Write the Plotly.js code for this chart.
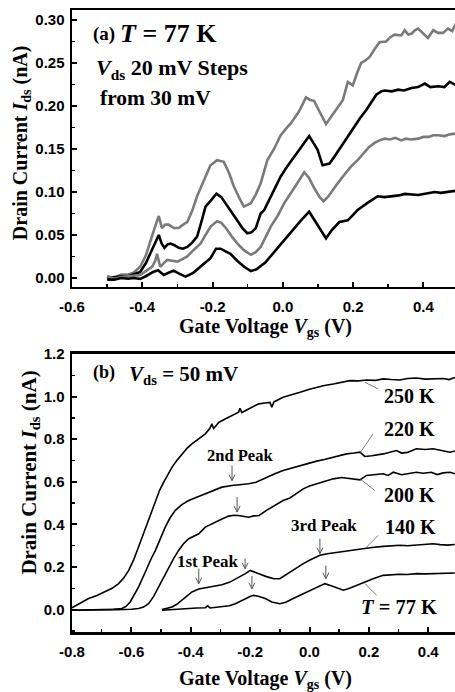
<!DOCTYPE html>
<html>
<head>
<meta charset="utf-8">
<script src="https://cdn.plot.ly/plotly-3.0.1.min.js"></script>
<style>html,body{margin:0;padding:0;background:#fff;}#chart{width:455px;height:692px;}</style>
</head>
<body>
<div id="chart"></div>
<script>
// ---------- Panel (a): T = 77 K, Vds in 20 mV steps ----------
const a1_v = [-0.50,-0.48,-0.46,-0.44,-0.425,-0.406,-0.39,-0.377,-0.365,-0.353,-0.344,-0.335,-0.325,-0.31,-0.296,-0.284,-0.272,-0.258,-0.244,-0.225,-0.206,-0.187,-0.168,-0.153,-0.139,-0.125,-0.111,-0.091,-0.077,-0.063,-0.044,-0.025,-0.006,0.008,0.023,0.045,0.066,0.078,0.089,0.105,0.123,0.135,0.147,0.160,0.171,0.185,0.199,0.211,0.223,0.235,0.247,0.261,0.275,0.294,0.306,0.318,0.337,0.347,0.357,0.366,0.376,0.385,0.399,0.413,0.428,0.442,0.456,0.47,0.482,0.494];
const a1_i = [0.002,0.0,0.004,0.004,0.006,0.013,0.026,0.044,0.058,0.072,0.058,0.062,0.062,0.058,0.058,0.062,0.065,0.078,0.095,0.113,0.131,0.137,0.135,0.122,0.106,0.094,0.083,0.087,0.097,0.110,0.137,0.150,0.166,0.173,0.180,0.193,0.210,0.207,0.206,0.193,0.179,0.186,0.193,0.200,0.207,0.228,0.224,0.238,0.250,0.253,0.257,0.266,0.274,0.275,0.280,0.283,0.282,0.288,0.283,0.284,0.288,0.290,0.285,0.279,0.288,0.285,0.285,0.290,0.287,0.297];

const a2_v = [-0.50,-0.48,-0.46,-0.44,-0.425,-0.406,-0.39,-0.377,-0.363,-0.353,-0.345,-0.337,-0.328,-0.32,-0.308,-0.296,-0.284,-0.272,-0.258,-0.244,-0.232,-0.22,-0.205,-0.189,-0.175,-0.16,-0.145,-0.129,-0.115,-0.101,-0.089,-0.077,-0.063,-0.053,-0.03,-0.006,0.013,0.032,0.055,0.075,0.087,0.099,0.113,0.123,0.133,0.150,0.166,0.185,0.204,0.220,0.237,0.252,0.266,0.28,0.29,0.31,0.328,0.345,0.366,0.385,0.404,0.42,0.442,0.46,0.475,0.494];
const a2_i = [0.0,0.001,0.002,0.002,0.004,0.007,0.017,0.029,0.040,0.050,0.040,0.035,0.039,0.040,0.038,0.035,0.034,0.036,0.041,0.048,0.065,0.083,0.090,0.098,0.094,0.085,0.076,0.067,0.058,0.052,0.053,0.058,0.075,0.079,0.098,0.118,0.130,0.141,0.153,0.165,0.157,0.149,0.131,0.132,0.133,0.143,0.153,0.164,0.176,0.186,0.195,0.204,0.213,0.217,0.218,0.217,0.219,0.218,0.221,0.222,0.226,0.222,0.223,0.222,0.228,0.224];

const a3_v = [-0.50,-0.48,-0.46,-0.44,-0.425,-0.406,-0.39,-0.372,-0.363,-0.358,-0.349,-0.34,-0.329,-0.315,-0.30,-0.286,-0.272,-0.255,-0.234,-0.22,-0.205,-0.187,-0.175,-0.16,-0.145,-0.129,-0.11,-0.091,-0.077,-0.063,-0.034,-0.015,0.004,0.025,0.045,0.061,0.075,0.090,0.105,0.116,0.13,0.143,0.156,0.175,0.195,0.213,0.23,0.245,0.261,0.275,0.29,0.305,0.32,0.337,0.35,0.365,0.385,0.40,0.415,0.428,0.442,0.46,0.475,0.494];
const a3_i = [0.002,-0.001,0.001,0.002,0.002,0.0035,0.008,0.013,0.020,0.028,0.013,0.017,0.021,0.020,0.019,0.022,0.025,0.032,0.040,0.050,0.060,0.066,0.064,0.057,0.048,0.040,0.032,0.027,0.030,0.036,0.060,0.072,0.087,0.100,0.113,0.123,0.116,0.104,0.094,0.089,0.095,0.103,0.110,0.120,0.130,0.137,0.145,0.152,0.157,0.160,0.162,0.161,0.163,0.160,0.162,0.161,0.162,0.164,0.164,0.166,0.166,0.165,0.167,0.168];

const a4_v = [-0.50,-0.48,-0.46,-0.44,-0.425,-0.406,-0.39,-0.369,-0.355,-0.339,-0.325,-0.311,-0.295,-0.277,-0.255,-0.234,-0.206,-0.19,-0.177,-0.163,-0.149,-0.13,-0.11,-0.091,-0.075,-0.05,-0.025,0.004,0.025,0.05,0.075,0.1,0.123,0.14,0.161,0.185,0.2,0.213,0.24,0.27,0.29,0.309,0.33,0.347,0.365,0.385,0.405,0.432,0.45,0.47,0.494];
const a4_i = [-0.002,-0.002,0.0,-0.001,0.0,-0.001,0.002,0.007,0.009,0.0035,0.006,0.0085,0.005,0.0015,0.006,0.013,0.023,0.034,0.034,0.031,0.028,0.020,0.013,0.008,0.010,0.018,0.030,0.044,0.055,0.066,0.077,0.061,0.046,0.056,0.065,0.067,0.073,0.079,0.087,0.095,0.094,0.0946,0.096,0.0977,0.097,0.0965,0.098,0.100,0.099,0.100,0.1015];

// ---------- Panel (b): Vds = 50 mV, several temperatures ----------
const b250_v = [-0.80,-0.77,-0.744,-0.716,-0.688,-0.665,-0.643,-0.626,-0.609,-0.592,-0.576,-0.561,-0.547,-0.533,-0.519,-0.505,-0.491,-0.477,-0.463,-0.447,-0.43,-0.413,-0.396,-0.373,-0.351,-0.336,-0.329,-0.323,-0.305,-0.284,-0.262,-0.239,-0.234,-0.228,-0.194,-0.171,-0.15,-0.133,-0.127,-0.12,-0.089,-0.06,-0.032,0.0,0.024,0.05,0.08,0.11,0.136,0.165,0.192,0.22,0.248,0.275,0.304,0.33,0.36,0.39,0.416,0.45,0.47,0.49];
const b250_i = [0.009,0.03,0.052,0.066,0.083,0.100,0.122,0.148,0.184,0.235,0.294,0.350,0.403,0.460,0.5125,0.560,0.598,0.635,0.669,0.700,0.731,0.757,0.778,0.800,0.825,0.850,0.872,0.850,0.880,0.895,0.910,0.927,0.945,0.925,0.950,0.966,0.970,0.973,0.950,0.975,0.997,1.008,1.020,1.035,1.044,1.052,1.059,1.066,1.075,1.074,1.078,1.076,1.083,1.080,1.078,1.085,1.0875,1.082,1.083,1.085,1.08,1.09];

const b220_v = [-0.80,-0.75,-0.70,-0.66,-0.632,-0.618,-0.604,-0.59,-0.576,-0.561,-0.547,-0.533,-0.519,-0.503,-0.486,-0.47,-0.452,-0.43,-0.407,-0.38,-0.351,-0.32,-0.295,-0.261,-0.235,-0.205,-0.18,-0.145,-0.117,-0.089,-0.06,-0.032,-0.005,0.024,0.05,0.08,0.105,0.125,0.15,0.17,0.186,0.21,0.248,0.27,0.293,0.31,0.33,0.36,0.39,0.416,0.44,0.473,0.49];
const b220_i = [-0.003,-0.002,0.0,0.002,0.005,0.015,0.036,0.068,0.106,0.152,0.200,0.240,0.278,0.333,0.3875,0.430,0.466,0.493,0.5125,0.528,0.544,0.560,0.575,0.583,0.586,0.591,0.598,0.622,0.638,0.653,0.665,0.677,0.688,0.697,0.705,0.716,0.722,0.731,0.735,0.739,0.719,0.722,0.731,0.738,0.747,0.735,0.738,0.755,0.752,0.755,0.747,0.739,0.745];

const b200_v = [-0.80,-0.75,-0.70,-0.65,-0.60,-0.576,-0.559,-0.542,-0.525,-0.508,-0.491,-0.474,-0.457,-0.441,-0.424,-0.407,-0.39,-0.373,-0.351,-0.334,-0.317,-0.295,-0.272,-0.255,-0.239,-0.222,-0.205,-0.188,-0.17,-0.145,-0.117,-0.089,-0.066,-0.046,-0.021,0.0,0.024,0.05,0.08,0.108,0.136,0.17,0.192,0.22,0.248,0.265,0.282,0.31,0.34,0.36,0.383,0.41,0.43,0.45,0.473,0.49];
const b200_i = [-0.003,-0.003,-0.001,0.0,0.002,0.005,0.012,0.028,0.062,0.106,0.152,0.200,0.242,0.278,0.310,0.333,0.345,0.356,0.3875,0.400,0.411,0.425,0.439,0.443,0.442,0.438,0.434,0.440,0.442,0.466,0.490,0.5125,0.524,0.545,0.567,0.580,0.590,0.603,0.614,0.620,0.614,0.609,0.630,0.632,0.6375,0.630,0.645,0.633,0.640,0.645,0.640,0.645,0.634,0.642,0.645,0.638];

const b140_v = [-0.497,-0.48,-0.463,-0.447,-0.43,-0.413,-0.396,-0.373,-0.351,-0.323,-0.295,-0.27,-0.25,-0.233,-0.216,-0.2,-0.186,-0.171,-0.145,-0.12,-0.1,-0.083,-0.066,-0.045,-0.021,0.005,0.035,0.06,0.08,0.11,0.136,0.16,0.181,0.21,0.248,0.275,0.304,0.33,0.36,0.39,0.416,0.44,0.465,0.489];
const b140_i = [0.0,0.005,0.0125,0.025,0.044,0.064,0.083,0.097,0.102,0.108,0.117,0.128,0.142,0.155,0.169,0.184,0.178,0.169,0.155,0.145,0.145,0.160,0.177,0.196,0.216,0.235,0.255,0.262,0.266,0.272,0.278,0.283,0.286,0.292,0.297,0.300,0.302,0.300,0.303,0.304,0.309,0.305,0.303,0.306];

const b77_v = [-0.497,-0.47,-0.44,-0.407,-0.38,-0.351,-0.343,-0.335,-0.31,-0.295,-0.27,-0.25,-0.233,-0.216,-0.2,-0.188,-0.17,-0.149,-0.127,-0.1,-0.08,-0.055,-0.03,0.001,0.025,0.052,0.08,0.1,0.114,0.135,0.158,0.185,0.214,0.248,0.275,0.304,0.33,0.36,0.39,0.42,0.45,0.489];
const b77_i = [-0.003,0.0,0.003,0.005,0.008,0.009,0.018,0.008,0.012,0.0125,0.018,0.028,0.040,0.052,0.062,0.067,0.062,0.052,0.036,0.028,0.035,0.052,0.068,0.0875,0.103,0.122,0.109,0.098,0.091,0.100,0.114,0.130,0.145,0.161,0.164,0.166,0.165,0.169,0.168,0.170,0.171,0.172];

// ---------- tick labels ----------
const ax_ticks = [-0.6,-0.4,-0.2,0.0,0.2,0.4];
const ax_labels = ["-0.6","-0.4","-0.2","0.0","0.2","0.4"];
const ay_ticks = [0.00,0.05,0.10,0.15,0.20,0.25,0.30];
const ay_labels = ["0.00","0.05","0.10","0.15","0.20","0.25","0.30"];
const bx_ticks = [-0.8,-0.6,-0.4,-0.2,0.0,0.2,0.4];
const bx_labels = ["-0.8","-0.6","-0.4","-0.2","0.0","0.2","0.4"];
const by_ticks = [0.0,0.2,0.4,0.6,0.8,1.0,1.2];
const by_labels = ["0.0","0.2","0.4","0.6","0.8","1.0","1.2"];

// peak-marker arrow tips (Vgs, Ids) in panel (b)
const peak_arrow_v = [-0.261, -0.244, -0.373, -0.217, -0.194, 0.035, 0.055];
const peak_arrow_i = [0.606, 0.458, 0.122, 0.192, 0.098, 0.263, 0.145];
const peak_arrow_len = [15, 15, 15, 10, 13, 15, 13];

const GRAY = '#7a7a7a';
const SERIF = 'Liberation Serif, Times New Roman, serif';
const SANS = 'Liberation Sans, Arial, sans-serif';

function lineA(x, y, color) {
  return {x: x, y: y, xaxis: 'x', yaxis: 'y', type: 'scatter', mode: 'lines',
          line: {color: color, width: 2.6}, hoverinfo: 'skip', showlegend: false};
}
function lineB(x, y) {
  return {x: x, y: y, xaxis: 'x2', yaxis: 'y2', type: 'scatter', mode: 'lines',
          line: {color: '#000', width: 1.6}, hoverinfo: 'skip', showlegend: false};
}

const traces = [
  lineA(a1_v, a1_i, GRAY), lineA(a2_v, a2_i, '#000'), lineA(a3_v, a3_i, GRAY), lineA(a4_v, a4_i, '#000'),
  lineB(b250_v, b250_i), lineB(b220_v, b220_i), lineB(b200_v, b200_i), lineB(b140_v, b140_i), lineB(b77_v, b77_i)
];

function axisCommon(extra) {
  return Object.assign({
    showline: true, linewidth: 2.5, linecolor: '#000', mirror: true,
    ticks: 'inside', ticklen: 5, tickwidth: 2, tickcolor: '#000',
    showgrid: false, zeroline: false, tickmode: 'array',
    tickfont: {family: SANS, size: 15, color: '#000', weight: 'bold'}
  }, extra);
}

const tfont = (s) => ({family: SERIF, size: s, color: '#000'});

function txt(x, y, xref, yref, text, size, xanchor) {
  return {x: x, y: y, xref: xref, yref: yref, text: text, showarrow: false,
          font: tfont(size), xanchor: xanchor || 'left', yanchor: 'middle'};
}

const shapes = [];
// leader lines from curves to temperature labels
function leader(x0, y0, x1, y1) {
  shapes.push({type: 'line', xref: 'x2', yref: 'y2', x0: x0, y0: y0, x1: x1, y1: y1,
               line: {color: '#555', width: 0.8}});
}
leader(0.187, 1.067, 0.231, 1.036);
leader(0.170, 0.735, 0.214, 0.825);
leader(0.170, 0.614, 0.220, 0.559);
leader(0.187, 0.286, 0.231, 0.348);
leader(0.187, 0.122, 0.226, 0.067);
// downward arrows marking the peaks (drawn in pixel units around the tip)
peak_arrow_v.forEach(function (v, k) {
  const L = peak_arrow_len[k];
  shapes.push({type: 'path', xref: 'x2', yref: 'y2', xsizemode: 'pixel', ysizemode: 'pixel',
               xanchor: v, yanchor: peak_arrow_i[k],
               path: 'M0,0 L0,' + L + ' M-3,6 L0,0 L3,6',
               line: {color: '#555', width: 1}});
});

const annotations = [
  // panel (a) texts
  txt(-0.545, 0.284, 'x', 'y', '<b>(a)</b>', 19),
  txt(-0.468, 0.284, 'x', 'y', '<b><i>T</i> = 77 K</b>', 26),
  txt(-0.538, 0.243, 'x', 'y', '<b><i>V</i><sub>ds</sub> 20 mV Steps</b>', 22),
  txt(-0.525, 0.209, 'x', 'y', '<b>from 30 mV</b>', 21.5),
  // panel (b) texts
  txt(-0.736, 1.112, 'x2', 'y2', '<b>(b)</b>', 18),
  txt(-0.614, 1.103, 'x2', 'y2', '<b><i>V</i><sub>ds</sub> = 50 mV</b>', 21),
  txt(0.243, 1.001, 'x2', 'y2', '<b>250 K</b>', 20),
  txt(0.243, 0.849, 'x2', 'y2', '<b>220 K</b>', 20),
  txt(0.243, 0.537, 'x2', 'y2', '<b>200 K</b>', 20),
  txt(0.247, 0.387, 'x2', 'y2', '<b>140 K</b>', 20),
  txt(0.168, 0.012, 'x2', 'y2', '<b><i>T</i> = 77 K</b>', 20.5),
  txt(-0.353, 0.724, 'x2', 'y2', '<b>2nd Peak</b>', 16.5),
  txt(-0.454, 0.227, 'x2', 'y2', '<b>1st Peak</b>', 17),
  txt(-0.068, 0.396, 'x2', 'y2', '<b>3rd Peak</b>', 17),
  // axis titles
  {x: 0.5065, y: 0.490, xref: 'paper', yref: 'paper', showarrow: false, xanchor: 'center', yanchor: 'middle',
   text: '<b>Gate Voltage <i>V</i><sub>gs</sub> (V)</b>', font: tfont(20)},
  {x: 0.5065, y: -0.077, xref: 'paper', yref: 'paper', showarrow: false, xanchor: 'center', yanchor: 'middle',
   text: '<b>Gate Voltage <i>V</i><sub>gs</sub> (V)</b>', font: tfont(20)},
  {x: -0.133, y: 0.786, xref: 'paper', yref: 'paper', showarrow: false, xanchor: 'center', yanchor: 'middle', textangle: -90,
   text: '<b>Drain Current <i>I</i><sub>ds</sub> (nA)</b>', font: tfont(20)},
  {x: -0.112, y: 0.2564, xref: 'paper', yref: 'paper', showarrow: false, xanchor: 'center', yanchor: 'middle', textangle: -90,
   text: '<b>Drain Current <i>I</i><sub>ds</sub> (nA)</b>', font: tfont(21)}
];

const layout = {
  width: 455, height: 692,
  margin: {l: 72, r: 0, t: 10, b: 60},
  paper_bgcolor: '#fff', plot_bgcolor: '#fff',
  showlegend: false,
  xaxis: axisCommon({domain: [0, 1], anchor: 'y', range: [-0.6, 0.49], tickvals: ax_ticks, ticktext: ax_labels,
                     ticklabelstandoff: 5,
                     minor: {tickmode: 'linear', tick0: -0.6, dtick: 0.1, ticks: 'inside', ticklen: 3, tickwidth: 1.5, tickcolor: '#000'}}),
  yaxis: axisCommon({domain: [0.5547, 1], anchor: 'x', range: [-0.0105, 0.3116], tickvals: ay_ticks, ticktext: ay_labels,
                     mirror: false, ticklabelstandoff: 2,
                     minor: {tickmode: 'linear', tick0: 0, dtick: 0.025, ticks: 'inside', ticklen: 3, tickwidth: 1.5, tickcolor: '#000'}}),
  xaxis2: axisCommon({domain: [0, 1], anchor: 'y2', range: [-0.8, 0.49], tickvals: bx_ticks, ticktext: bx_labels,
                      ticklabelstandoff: 4,
                      minor: {tickmode: 'linear', tick0: -0.8, dtick: 0.1, ticks: 'inside', ticklen: 3, tickwidth: 1.5, tickcolor: '#000'}}),
  yaxis2: axisCommon({domain: [0, 0.44695], anchor: 'x2', range: [-0.105, 1.2], tickvals: by_ticks, ticktext: by_labels,
                      mirror: false, ticklabelstandoff: 2,
                      minor: {tickmode: 'linear', tick0: 0, dtick: 0.1, ticks: 'inside', ticklen: 3, tickwidth: 1.5, tickcolor: '#000'}}),
  shapes: shapes,
  annotations: annotations
};

Plotly.newPlot('chart', traces, layout, {staticPlot: true, displayModeBar: false});
</script>
</body>
</html>
